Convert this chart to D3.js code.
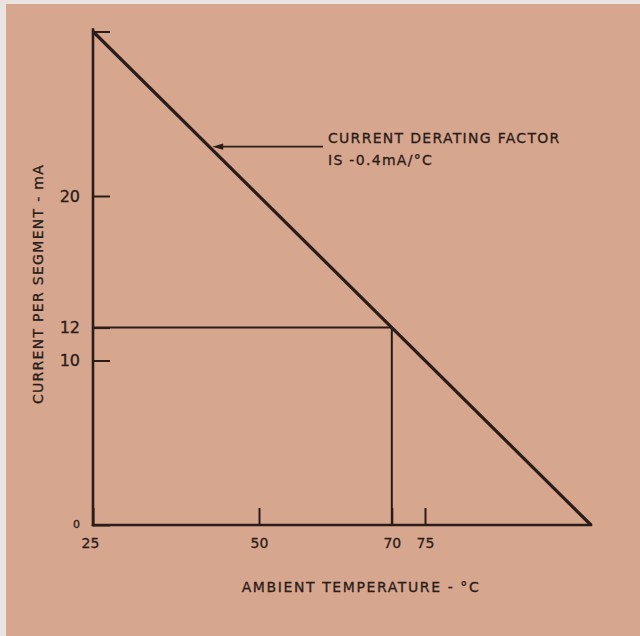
<!DOCTYPE html>
<html>
<head>
<meta charset="utf-8">
<script src="https://cdn.jsdelivr.net/npm/d3@7"></script>
<style>
  html, body { margin: 0; padding: 0; background: #e9e4e2; }
  svg { display: block; }
  text { font-family: "DejaVu Sans", "Liberation Sans", sans-serif; fill: #2a1c17; stroke: #2a1c17; stroke-width: 0.3; }
</style>
</head>
<body>
<svg id="chart" width="640" height="636"></svg>
<script>
// Derating line: maximum current per segment vs ambient temperature
const temperatures = [25, 100];          // °C
const currents = [30, 0];                // mA per segment
const operatingPoint = { temp: 70, current: 12 };

const xTickValues = [25, 50, 70, 75];
const yTickValues = [0, 10, 12, 20, 30];
const yTickLabels = ["0", "10", "12", "20", ""];

const noteLines = ["CURRENT DERATING FACTOR", "IS -0.4mA/°C"];
const noteTemp = 42.5;                   // where the leader arrow meets the line
const deratingFactor = -0.4;             // mA/°C

const xTitle = "AMBIENT TEMPERATURE - °C";
const yTitle = "CURRENT PER SEGMENT - mA";

const ink = "#2a1c17";
const svg = d3.select("#chart");

// paper background with a pale edge at top/left
svg.append("rect").attr("x", 6).attr("y", 4).attr("width", 634).attr("height", 632)
  .attr("fill", "#d7a68f");

const x = d3.scaleLinear().domain([25, 100]).range([93, 591]);
const y = d3.scaleLinear().domain([0, 30]).range([525, 31.5]);

const g = svg.append("g");

// y axis: ticks point inward
const yAxis = d3.axisLeft(y)
  .tickValues(yTickValues)
  .tickFormat((d, i) => yTickLabels[i])
  .tickSizeInner(-17).tickSizeOuter(0).tickPadding(13);
const yG = g.append("g").attr("transform", `translate(${x(25)},0)`).call(yAxis);
yG.select(".domain").remove();
yG.selectAll(".tick line").attr("stroke", ink).attr("stroke-width", 2);
yG.selectAll(".tick text").attr("font-size", 16).attr("fill", ink)
  .attr("font-family", "DejaVu Sans")
  .filter(d => d === 0).attr("font-size", 11).attr("dy", "0.25em");

// x axis: ticks point up
const xAxis = d3.axisBottom(x)
  .tickValues(xTickValues)
  .tickSizeInner(-17).tickSizeOuter(0).tickPadding(13);
const xG = g.append("g").attr("transform", `translate(0,${y(0)})`).call(xAxis);
xG.select(".domain").remove();
xG.selectAll(".tick line").attr("stroke", ink).attr("stroke-width", 2);
xG.selectAll(".tick text").attr("font-size", 14).attr("fill", ink)
  .attr("font-family", "DejaVu Sans")
  .attr("dx", d => d === 25 ? -3 : 0);

// axis lines
g.append("line")
  .attr("x1", x(25)).attr("x2", x(25))
  .attr("y1", y(0)).attr("y2", y(30) - 2)
  .attr("stroke", ink).attr("stroke-width", 2.6).attr("stroke-linecap", "square");
g.append("line")
  .attr("x1", x(25)).attr("x2", x(100))
  .attr("y1", y(0)).attr("y2", y(0))
  .attr("stroke", ink).attr("stroke-width", 2.6).attr("stroke-linecap", "square");

// guide lines to the operating point
g.append("path")
  .attr("d", d3.line()([
    [x(25), y(operatingPoint.current)],
    [x(operatingPoint.temp), y(operatingPoint.current)],
    [x(operatingPoint.temp), y(0)]
  ]))
  .attr("fill", "none").attr("stroke", ink).attr("stroke-width", 2);

// derating line
g.append("path")
  .datum(temperatures.map((t, i) => [t, currents[i]]))
  .attr("d", d3.line().x(d => x(d[0])).y(d => y(d[1])))
  .attr("fill", "none").attr("stroke", ink).attr("stroke-width", 3.2);

// annotation with leader arrow
const noteCurrent = currents[0] + deratingFactor * (noteTemp - temperatures[0]);
const tipX = x(noteTemp) + 3, tipY = y(noteCurrent);
g.append("line")
  .attr("x1", tipX + 8).attr("x2", 323)
  .attr("y1", tipY).attr("y2", tipY)
  .attr("stroke", ink).attr("stroke-width", 1.8);
g.append("path")
  .attr("d", `M${tipX},${tipY} L${tipX + 11},${tipY - 3.2} L${tipX + 11},${tipY + 3.2} Z`)
  .attr("fill", ink);
g.selectAll("text.note").data(noteLines).join("text")
  .attr("class", "note")
  .attr("x", 328).attr("y", (d, i) => 143 + i * 22)
  .attr("font-size", 14).attr("letter-spacing", 1.3)
  .text(d => d);

// axis titles
g.append("text")
  .attr("x", 361).attr("y", 592)
  .attr("text-anchor", "middle").attr("font-size", 14).attr("letter-spacing", 1.6)
  .text(xTitle);
g.append("text")
  .attr("transform", "translate(43,284) rotate(-90)")
  .attr("text-anchor", "middle").attr("font-size", 14).attr("letter-spacing", 1.3)
  .text(yTitle);
</script>
</body>
</html>
